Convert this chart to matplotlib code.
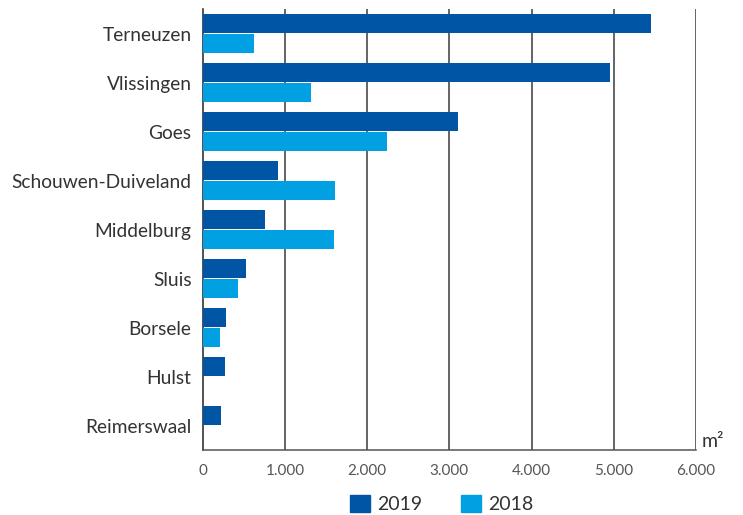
import matplotlib
matplotlib.use("Agg")
import matplotlib.pyplot as plt
from matplotlib.patches import Patch
from matplotlib.ticker import FuncFormatter
import numpy as np

# --- Data (m2 per gemeente) ---
gemeenten = ["Terneuzen", "Vlissingen", "Goes", "Schouwen-Duiveland", "Middelburg",
             "Sluis", "Borsele", "Hulst", "Reimerswaal"]
waarden_2019 = [5450, 4950, 3100, 910, 760, 530, 285, 275, 225]
waarden_2018 = [630, 1320, 2240, 1615, 1600, 430, 210, 0, 0]
x_ticks = [0, 1000, 2000, 3000, 4000, 5000, 6000]

KLEUR_2019 = "#0055A4"
KLEUR_2018 = "#00A0E2"
TEKST = "#333333"

plt.rcParams['font.family'] = ['Lato', 'DejaVu Sans']

fig = plt.figure(figsize=(7.43, 5.15), dpi=100)
ax = fig.add_axes([0.2728, 0.1262, 0.6639, 0.8563])

y = np.arange(len(gemeenten))
h = 0.385
gap = 0.02
ax.barh(y - h / 2 - gap, waarden_2019, height=h, color=KLEUR_2019, zorder=3)
ax.barh(y + h / 2 + gap, waarden_2018, height=h, color=KLEUR_2018, zorder=3)

ax.set_ylim(8.5, -0.5)
ax.set_xlim(0, 6000)
ax.set_yticks(y)
ax.set_yticklabels(gemeenten, fontsize=13.8, color=TEKST)
ax.set_xticks(x_ticks)
ax.xaxis.set_major_formatter(FuncFormatter(lambda v, p: f"{int(v):,}".replace(",", ".")))
ax.tick_params(axis='x', length=0, pad=10, labelsize=11, labelcolor="#555555")
ax.tick_params(axis='y', length=0, pad=8)

for t in x_ticks[1:]:
    ax.axvline(t, color="#3a3a3a", lw=1.1, zorder=1)

for side in ["top", "right"]:
    ax.spines[side].set_visible(False)
ax.spines["left"].set_color("#222222")
ax.spines["left"].set_linewidth(1.1)
ax.spines["bottom"].set_color("#555555")
ax.spines["bottom"].set_linewidth(1.1)

ax.text(1.012, 0.0, "m²", transform=ax.transAxes, ha="left", va="bottom",
        fontsize=14, color=TEKST)

handles = [Patch(color=KLEUR_2019, label="2019"), Patch(color=KLEUR_2018, label="2018")]
ax.legend(handles=handles, loc="center", bbox_to_anchor=(0.485, -0.122), ncol=2,
          frameon=False, fontsize=14, handlelength=1.0, handleheight=1.0,
          handletextpad=0.4, columnspacing=2.0, labelcolor=TEKST)

fig.savefig("out.png", dpi=100)
